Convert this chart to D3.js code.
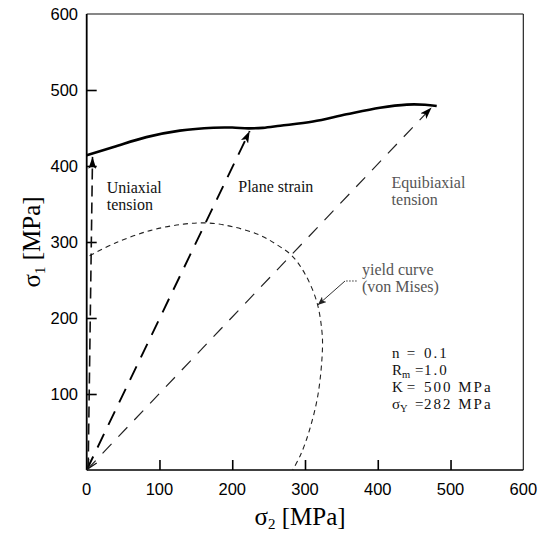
<!DOCTYPE html>
<html>
<head>
<meta charset="utf-8">
<script src="https://cdn.jsdelivr.net/npm/d3@7"></script>
<style>
  html, body { margin: 0; padding: 0; background: #fff; }
  svg { display: block; }
</style>
</head>
<body>
<svg id="chart" width="546" height="534"></svg>
<script>
// ---------- data (σ2, σ1) in MPa ----------
const xTickValues = [0, 100, 200, 300, 400, 500, 600];
const yTickValues = [100, 200, 300, 400, 500, 600];
const innerTicks = [100, 200, 300, 400, 500];

// forming limit curve (solid)
const formingLimitCurve = [
  [0, 414], [37, 425], [82, 438], [128, 446.5], [174, 450.4], [200, 450.6],
  [222, 449.5], [242, 450.2], [266, 453], [311, 458.5], [357, 468],
  [403, 476.7], [440, 480.8], [465, 480.6], [481, 479]
];

// von Mises yield curve (dashed, thin)
const yieldCurve = [
  [4, 282], [40, 299], [87, 315], [133, 323.5], [167, 325], [201, 320],
  [238, 309], [262, 296], [282, 282], [300, 258], [316, 222], [323, 185],
  [324, 160], [318, 100], [306, 52], [294, 20], [283, 0]
];

// loading paths (arrows): start / end points
const uniaxialPath = [[2, 2], [8, 412]];
const planeStrainPath = [[0, 0], [224, 446]];
const equibiaxialPath = [[0, 0], [474, 477]];

// yield-curve pointer: text end, corner, tip
const yieldPointer = [[371, 248.7], [355, 248.7], [317.5, 217]];

// annotation texts
const pathLabels = [
  { lines: ["Uniaxial", "tension"], pos: [27.5, 364.5], color: "#111" },
  { lines: ["Plane strain"], pos: [208.3, 366], color: "#111" },
  { lines: ["Equibiaxial", "tension"], pos: [419, 370.7], color: "#555" },
  { lines: ["yield curve", "(von Mises)"], pos: [378.3, 256.6], color: "#555" }
];
const paramSymbols = [["n", ""], ["R", "m"], ["K", ""], ["σ", "Y"]];
const paramEquals = [440, 451, 440, 451];
const paramValues = ["0.1", "1.0", "500 MPa", "282 MPa"];
const paramBaselines = [147.4, 125, 102.6, 80.3];

// ---------- layout ----------
const svg = d3.select("#chart");
const pLeft = 86.7, pRight = 523.3, pTop = 14, pBottom = 470;
const x = d3.scaleLinear().domain([0, 600]).range([pLeft, pRight]);
const y = d3.scaleLinear().domain([0, 600]).range([pBottom, pTop]);

const SANS = "'Liberation Sans', Arial, Helvetica, sans-serif";
const SERIF = "'Liberation Serif', 'Times New Roman', Times, serif";

// markers
const defs = svg.append("defs");
defs.append("marker")
  .attr("id", "headFill").attr("markerUnits", "userSpaceOnUse")
  .attr("viewBox", "0 0 12 8").attr("refX", 12).attr("refY", 4)
  .attr("markerWidth", 12).attr("markerHeight", 8).attr("orient", "auto")
  .append("path").attr("d", "M0,0 L12,4 L0,8 L3,4 Z").attr("fill", "#000");
defs.append("marker")
  .attr("id", "headSmall").attr("markerUnits", "userSpaceOnUse")
  .attr("viewBox", "0 0 10 8").attr("refX", 10).attr("refY", 4)
  .attr("markerWidth", 9).attr("markerHeight", 7).attr("orient", "auto")
  .append("path").attr("d", "M0,0 L10,4 L0,8 L2.5,4 Z").attr("fill", "#222");

// ---------- frame ----------
svg.append("line").attr("x1", pLeft).attr("x2", pRight).attr("y1", pTop).attr("y2", pTop)
  .attr("stroke", "#111").attr("stroke-width", 1.1);
svg.append("line").attr("x1", pRight).attr("x2", pRight).attr("y1", pTop).attr("y2", pBottom)
  .attr("stroke", "#111").attr("stroke-width", 1.1);

// axes (inward ticks)
const xAxis = d3.axisTop(x).tickValues(innerTicks).tickSize(10).tickFormat("");
const yAxis = d3.axisRight(y).tickValues(innerTicks).tickSize(10).tickFormat("");
const gx = svg.append("g").attr("transform", `translate(0,${pBottom})`).call(xAxis);
const gy = svg.append("g").attr("transform", `translate(${pLeft},0)`).call(yAxis);
[gx, gy].forEach(g => {
  g.select(".domain").remove();
  g.selectAll(".tick line").attr("stroke", "#000").attr("stroke-width", 1.6);
});
svg.append("line").attr("x1", pLeft).attr("x2", pRight).attr("y1", pBottom).attr("y2", pBottom)
  .attr("stroke", "#000").attr("stroke-width", 1.7);
svg.append("line").attr("x1", pLeft).attr("x2", pLeft).attr("y1", pTop).attr("y2", pBottom)
  .attr("stroke", "#000").attr("stroke-width", 1.8);

// tick labels
svg.append("g").selectAll("text").data(xTickValues).join("text")
  .attr("x", d => x(d)).attr("y", 495)
  .attr("text-anchor", "middle").attr("font-family", SANS).attr("font-size", 16.5)
  .attr("fill", "#000").text(d => d);
svg.append("g").selectAll("text").data(yTickValues).join("text")
  .attr("x", 78).attr("y", d => y(d) + 6)
  .attr("text-anchor", "end").attr("font-family", SANS).attr("font-size", 16.5)
  .attr("fill", "#000").text(d => d);

// axis titles
const xt = svg.append("text").attr("x", 300).attr("y", 525)
  .attr("text-anchor", "middle").attr("font-family", SERIF).attr("font-size", 25).attr("fill", "#000");
xt.append("tspan").text("σ");
xt.append("tspan").attr("font-size", 15).attr("dy", 4).text("2");
xt.append("tspan").attr("dy", -4).text(" [MPa]");

const yt = svg.append("text").attr("transform", `translate(40,${242}) rotate(-90)`)
  .attr("text-anchor", "middle").attr("font-family", SERIF).attr("font-size", 25).attr("fill", "#000");
yt.append("tspan").text("σ");
yt.append("tspan").attr("font-size", 15).attr("dy", 5).text("1");
yt.append("tspan").attr("dy", -5).text(" [MPa]");

// ---------- curves ----------
const smooth = d3.line().x(d => x(d[0])).y(d => y(d[1])).curve(d3.curveCatmullRom.alpha(0.5));
const straight = d3.line().x(d => x(d[0])).y(d => y(d[1]));

svg.append("path").datum(yieldCurve).attr("d", smooth)
  .attr("fill", "none").attr("stroke", "#222").attr("stroke-width", 1.1)
  .attr("stroke-dasharray", "5,4");

svg.append("path").datum(formingLimitCurve).attr("d", smooth)
  .attr("fill", "none").attr("stroke", "#000").attr("stroke-width", 2.6);

// loading paths
svg.append("path").datum(uniaxialPath).attr("d", straight)
  .attr("fill", "none").attr("stroke", "#111").attr("stroke-width", 1.6)
  .attr("stroke-dasharray", "11,6").attr("marker-end", "url(#headFill)");
svg.append("path").datum(planeStrainPath).attr("d", straight)
  .attr("fill", "none").attr("stroke", "#000").attr("stroke-width", 1.9)
  .attr("stroke-dasharray", "15,10").attr("marker-end", "url(#headFill)");
svg.append("path").datum(equibiaxialPath).attr("d", straight)
  .attr("fill", "none").attr("stroke", "#222").attr("stroke-width", 1.2)
  .attr("stroke-dasharray", "13,10").attr("marker-end", "url(#headFill)");

// small open head at origin
const ox = x(0), oy = y(0);
svg.append("path")
  .attr("d", `M${ox + 2},${oy - 11} L${ox + 1},${oy - 1} L${ox + 10},${oy - 7}`)
  .attr("fill", "none").attr("stroke", "#111").attr("stroke-width", 1.3);

// yield pointer
svg.append("path").datum(yieldPointer.slice(0, 2)).attr("d", straight)
  .attr("fill", "none").attr("stroke", "#333").attr("stroke-width", 1)
  .attr("stroke-dasharray", "1.5,1.5");
svg.append("path").datum(yieldPointer.slice(1)).attr("d", straight)
  .attr("fill", "none").attr("stroke", "#333").attr("stroke-width", 1)
  .attr("marker-end", "url(#headSmall)");

// ---------- annotation text ----------
pathLabels.forEach(lab => {
  const t = svg.append("text").attr("font-family", SERIF).attr("font-size", 16)
    .attr("fill", lab.color);
  lab.lines.forEach((s, i) => {
    t.append("tspan").attr("x", x(lab.pos[0])).attr("y", y(lab.pos[1]) + i * 17).text(s);
  });
});

// parameter block: one text element, one line per parameter
const params = svg.append("text")
  .attr("font-family", SERIF).attr("font-size", 15).attr("fill", "#111");
paramSymbols.forEach((p, i) => {
  const by = y(paramBaselines[i]);
  params.append("tspan").attr("x", x(419.5)).attr("y", by).text(p[0]);
  if (p[1]) params.append("tspan").attr("font-size", 10.5).attr("y", by + 3).text(p[1]);
  params.append("tspan").attr("x", x(paramEquals[i])).attr("y", by).text("=");
  params.append("tspan").attr("x", x(463.5)).attr("y", by)
    .attr("letter-spacing", 2).text(paramValues[i]);
});
</script>
</body>
</html>
